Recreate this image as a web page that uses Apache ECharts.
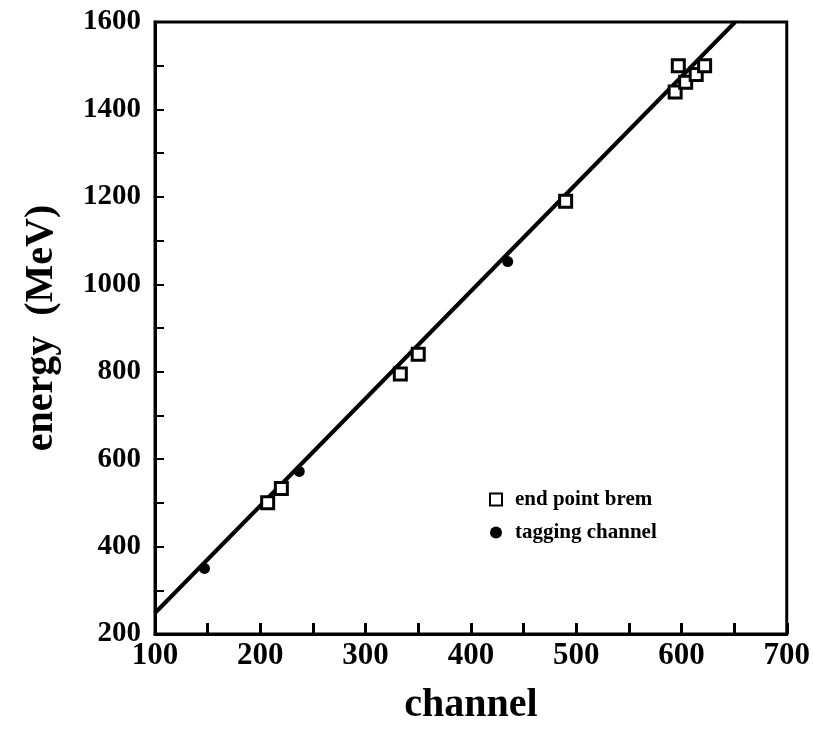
<!DOCTYPE html>
<html><head><meta charset="utf-8">
<script src="https://cdn.jsdelivr.net/npm/echarts@6/dist/echarts.min.js"></script>
<style>html,body{margin:0;padding:0;background:#fff}#c{width:813px;height:736px}</style>
</head><body><div id="c"></div>
<script>
const bremChannel = [207, 220, 333, 350, 490, 594, 597, 604, 614, 622];
const bremEnergy  = [500, 533, 795, 840, 1190, 1440, 1500, 1462, 1480, 1500];
const tagChannel = [147, 237, 435];
const tagEnergy  = [350, 572, 1052];
const fitChannel = [100, 651];
const fitEnergy  = [248, 1600];
const xTickLabels = ['100','200','300','400','500','600','700'];
const yTickLabels = ['200','400','600','800','1000','1200','1400','1600'];

const FONT = 'Liberation Serif';
const chart = echarts.init(document.getElementById('c'));
chart.setOption({
  animation: false,
  backgroundColor: '#fff',
  grid: {left: 155, right: 21, top: 22, bottom: 102, show: true, borderColor: '#000', borderWidth: 3},
  legend: {
    orient: 'vertical', left: 484, top: 484, itemGap: 12, itemWidth: 12, itemHeight: 12,
    data: ['end point brem', 'tagging channel'],
    textStyle: {fontFamily: FONT, fontWeight: 'bold', fontSize: 21, color: '#000', padding: [0,0,0,8]}
  },
  xAxis: {
    type: 'value', min: 100, max: 700, interval: 50,
    name: 'channel', nameLocation: 'middle', nameGap: 52,
    nameTextStyle: {fontFamily: FONT, fontWeight: 'bold', fontSize: 40, color: '#000'},
    axisLine: {show: true, lineStyle: {color: '#000', width: 3}},
    axisTick: {inside: true, length: 11, lineStyle: {color: '#000', width: 3}},
    splitLine: {show: false},
    axisLabel: {
      fontFamily: FONT, fontWeight: 'bold', fontSize: 31, color: '#000', margin: 6,
      formatter: v => xTickLabels.includes(String(v)) ? String(v) : ''
    }
  },
  yAxis: {
    type: 'value', min: 200, max: 1600, interval: 100,
    name: 'energy  (MeV)', nameLocation: 'middle', nameGap: 93, nameRotate: 90,
    nameTextStyle: {fontFamily: FONT, fontWeight: 'bold', fontSize: 40, color: '#000'},
    axisLine: {show: true, lineStyle: {color: '#000', width: 3}},
    axisTick: {inside: true, length: 9, lineStyle: {color: '#000', width: 2}},
    splitLine: {show: false},
    axisLabel: {
      fontFamily: FONT, fontWeight: 'bold', fontSize: 29, color: '#000', margin: 14,
      formatter: v => yTickLabels.includes(String(v)) ? String(v) : ''
    }
  },
  series: [
    {
      name: 'fit', type: 'line', data: fitChannel.map((x, i) => [x, fitEnergy[i]]),
      showSymbol: false, lineStyle: {color: '#000', width: 4}, z: 2
    },
    {
      name: 'end point brem', type: 'scatter', data: bremChannel.map((x, i) => [x, bremEnergy[i]]),
      symbol: 'rect', symbolSize: 12,
      itemStyle: {color: '#fff', borderColor: '#000', borderWidth: 3, opacity: 1}, z: 3
    },
    {
      name: 'tagging channel', type: 'scatter', data: tagChannel.map((x, i) => [x, tagEnergy[i]]),
      symbol: 'circle', symbolSize: 11,
      itemStyle: {color: '#000', opacity: 1}, z: 3
    }
  ]
});
</script></body></html>
